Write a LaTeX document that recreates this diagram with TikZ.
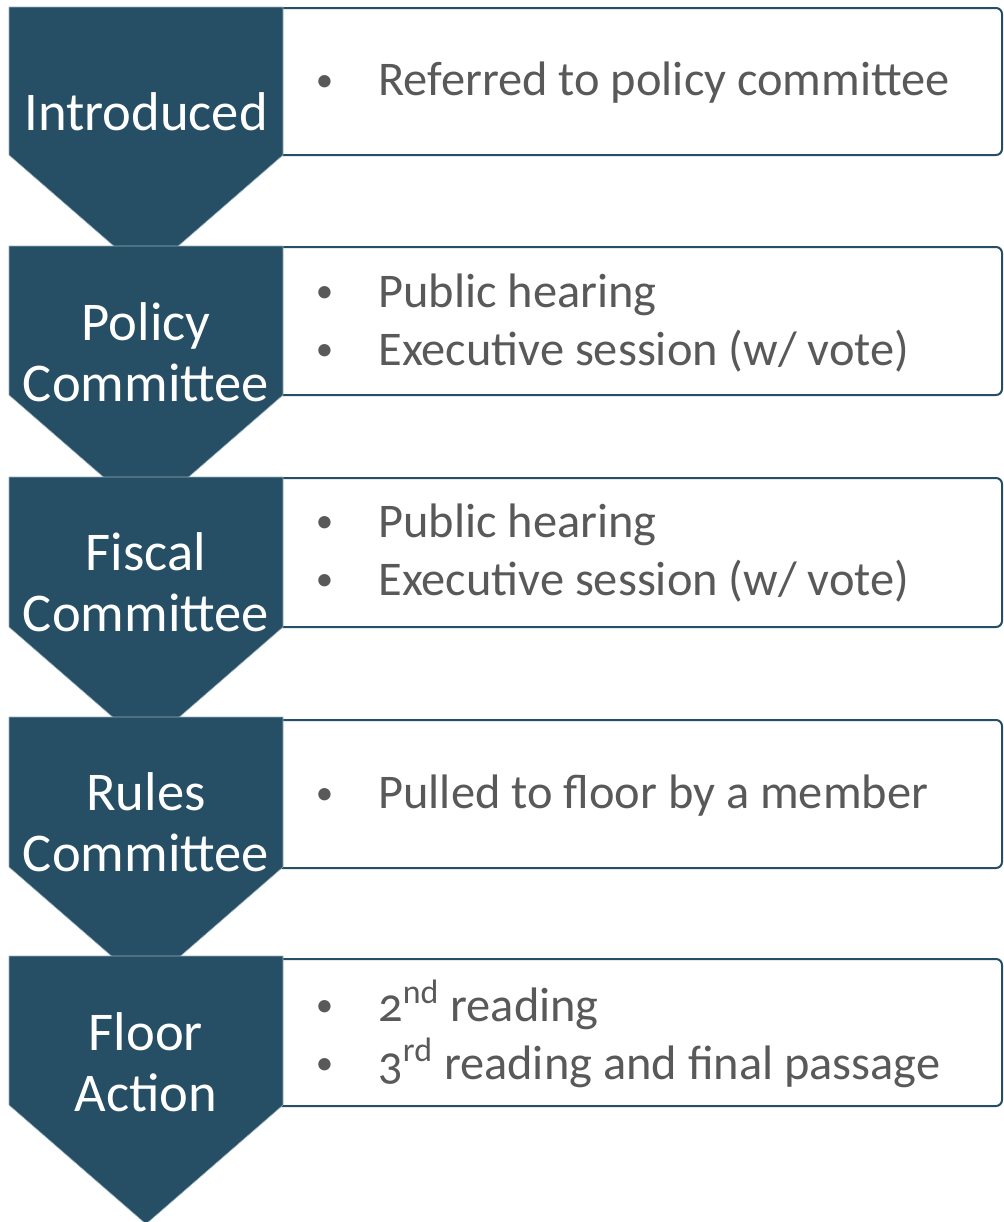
\documentclass[tikz,border=0pt]{standalone}
\usepackage{graphicx}
\usepackage{fontspec}
\setmainfont{Carlito}[Numbers=OldStyle]
\definecolor{chev}{RGB}{38,78,100}
\definecolor{chevedge}{RGB}{150,175,190}
\definecolor{txt}{RGB}{89,89,89}
\newcommand\bul{\makebox[32.5pt][l]{\hspace{1.2pt}\raisebox{0.1em}{\scalebox{0.72}{•}}}}
\begin{document}
\begin{tikzpicture}[x=0.5pt,y=-0.5pt,
 chevshape/.style={fill=chev, draw=chevedge, line width=0.3pt},
 boxshape/.style={fill=white, draw=chev, line width=1pt, rounded corners=3pt},
 chevlabel/.style={text=white, font=\fontsize{27.3}{30.5}\selectfont, align=center, inner sep=0pt, anchor=center},
 itemlabel/.style={text=txt, font=\fontsize{24.2}{29}\selectfont, align=left, anchor=west, inner sep=0pt}]
\useasboundingbox (0,0) rectangle (1003,1222);
% boxes
\draw[boxshape] (270,8) -- (1002,8) -- (1002,155) -- (270,155);
\draw[boxshape] (270,247) -- (1002,247) -- (1002,395) -- (270,395);
\draw[boxshape] (270,478) -- (1002,478) -- (1002,627) -- (270,627);
\draw[boxshape] (270,720) -- (1002,720) -- (1002,868) -- (270,868);
\draw[boxshape] (270,959) -- (1002,959) -- (1002,1106) -- (270,1106);
% chevrons
\foreach \t/\b in {7/155, 246/395, 477/627, 717/867, 956/1105}{
  \filldraw[chevshape] (9,\t) -- (283,\t) -- (283,\b) -- (146,\b+119) -- (9,\b) -- cycle;
}
% chevron labels
\node[chevlabel] (l1) at (146,112) {Introduced};
\node[chevlabel] (l2) at (146,352) {Policy\\Committee};
\node[chevlabel] (l3) at (146,582) {Fiscal\\Committee};
\node[chevlabel] (l4) at (146,822) {Rules\\Committee};
\node[chevlabel] (l5) at (146,1062) {Floor\\Action};
% items
\node[itemlabel] (t1) at (313,83) {\bul Referred to policy committee};
\node[itemlabel] (t2) at (313,323) {\bul Public hearing\\\bul Executive session (w/ vote)};
\node[itemlabel] (t3) at (313,553) {\bul Public hearing\\\bul Executive session (w/ vote)};
\node[itemlabel] (t4) at (313,796) {\bul Pulled to floor by a member};
\node[itemlabel] (t5) at (313,1034) {\bul 2\textsuperscript{nd} reading\\\bul 3\textsuperscript{rd} reading and final passage};
\end{tikzpicture}
\end{document}
